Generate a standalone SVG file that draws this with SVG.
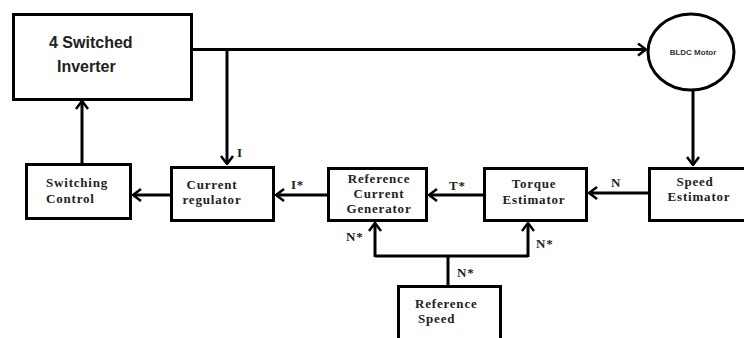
<svg xmlns="http://www.w3.org/2000/svg" width="744" height="338" viewBox="0 0 744 338">
<style>
.box{fill:#fff;stroke:#000;stroke-width:3}
.ln{fill:none;stroke:#000;stroke-width:3}
.t{font-family:"Liberation Serif","Times New Roman",serif;font-weight:bold;font-size:13px;letter-spacing:0.8px;fill:#222}
.c{text-anchor:middle}
.big{font-family:"Liberation Sans",Arial,sans-serif;font-weight:bold;font-size:16px;fill:#222}
.sm{font-family:"Liberation Sans",Arial,sans-serif;font-weight:bold;font-size:8px;fill:#333}
</style>
<defs>
<marker id="arr" viewBox="0 0 10 14" markerWidth="10" markerHeight="14" refX="9" refY="7" orient="auto" markerUnits="userSpaceOnUse">
<path d="M1,1 L9,7 L1,13" fill="none" stroke="#000" stroke-width="2.5"/>
</marker>
</defs>
<rect width="744" height="338" fill="#fff"/>
<g id="connectors">
<path class="ln" d="M193,49.5 H646" marker-end="url(#arr)"/>
<path class="ln" d="M227,49.5 V164" marker-end="url(#arr)"/>
<path class="ln" d="M693,90 V165" marker-end="url(#arr)"/>
<path class="ln" d="M82,163 V101" marker-end="url(#arr)"/>
<path class="ln" d="M170,195 H133" marker-end="url(#arr)"/>
<path class="ln" d="M327,195 H276" marker-end="url(#arr)"/>
<path class="ln" d="M483,195 H429" marker-end="url(#arr)"/>
<path class="ln" d="M648,193 H589" marker-end="url(#arr)"/>
<path class="ln" d="M448,285 V256"/>
<path class="ln" d="M375,256 H528"/>
<path class="ln" d="M375,257 V223" marker-end="url(#arr)"/>
<path class="ln" d="M528,257 V223" marker-end="url(#arr)"/>
<text class="t" x="237" y="157">I</text>
<text class="t" x="291" y="189">I*</text>
<text class="t" x="449" y="190">T*</text>
<text class="t" x="611" y="187">N</text>
<text class="t" x="346" y="241">N*</text>
<text class="t" x="536" y="248">N*</text>
<text class="t" x="457" y="277">N*</text>
</g>
<g id="inverter">
<rect class="box" x="13.5" y="14.5" width="178" height="85"/>
<text class="big" x="49" y="48">4 Switched</text>
<text class="big" x="57" y="72">Inverter</text>
</g>
<g id="motor">
<ellipse cx="691" cy="52" rx="43" ry="38" fill="#fff" stroke="#000" stroke-width="3"/>
<text class="sm" x="693" y="55" text-anchor="middle">BLDC Motor</text>
</g>
<g id="switching-control">
<rect class="box" x="26.5" y="164.5" width="104" height="54"/>
<text class="t" x="46" y="187">Switching</text>
<text class="t" x="46" y="203">Control</text>
</g>
<g id="current-regulator">
<rect class="box" x="171.5" y="167.5" width="102" height="53"/>
<text class="t c" x="212" y="189">Current</text>
<text class="t c" x="212" y="204">regulator</text>
</g>
<g id="reference-current-generator">
<rect class="box" x="328.5" y="168.5" width="98" height="52"/>
<text class="t c" x="379" y="183">Reference</text>
<text class="t c" x="379" y="198">Current</text>
<text class="t c" x="379" y="213">Generator</text>
</g>
<g id="torque-estimator">
<rect class="box" x="484.5" y="168.5" width="102" height="52"/>
<text class="t c" x="534" y="188">Torque</text>
<text class="t c" x="534" y="204">Estimator</text>
</g>
<g id="speed-estimator">
<rect class="box" x="649.5" y="168.5" width="100" height="52"/>
<text class="t c" x="695" y="186">Speed</text>
<text class="t c" x="699" y="201">Estimator</text>
</g>
<g id="reference-speed">
<rect class="box" x="398.5" y="286.5" width="102" height="60"/>
<text class="t" x="415" y="308">Reference</text>
<text class="t" x="418" y="323">Speed</text>
</g>
</svg>
